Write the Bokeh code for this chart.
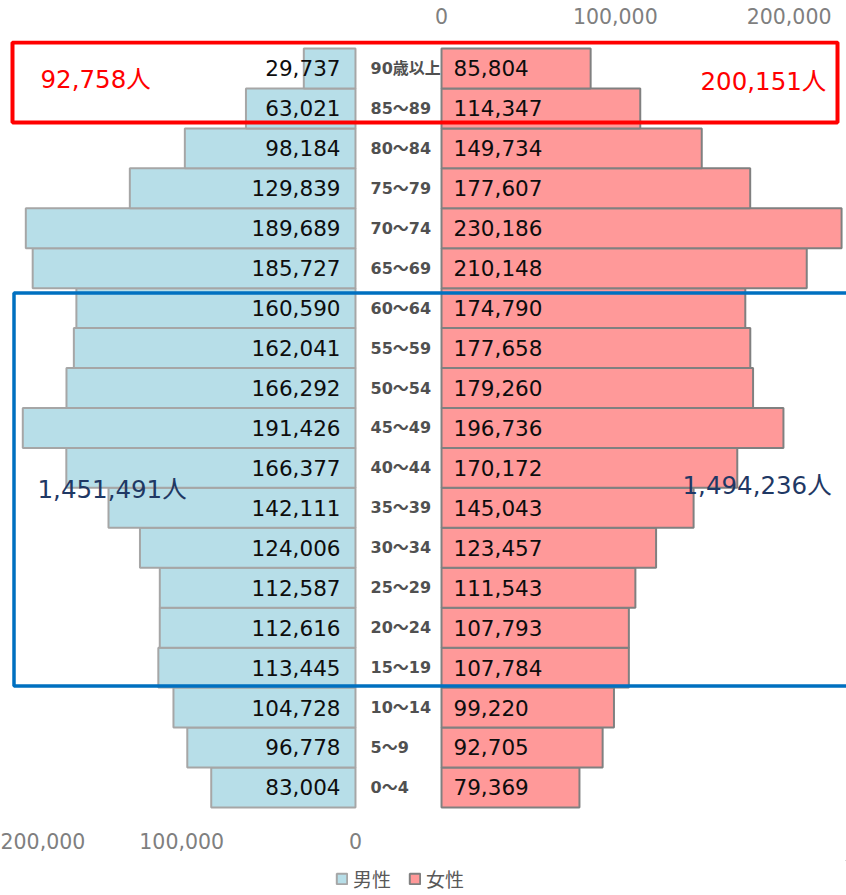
from bokeh.plotting import figure
from bokeh.models import (ColumnDataSource, LinearAxis, FixedTicker, Range1d,
                          BoxAnnotation, Legend, LegendItem)
from bokeh.layouts import column
from bokeh.core.properties import value
from bokeh.embed import file_html
from bokeh.resources import INLINE

# ---------------- data ----------------
ages = ["0～4", "5～9", "10～14", "15～19", "20～24", "25～29", "30～34", "35～39",
        "40～44", "45～49", "50～54", "55～59", "60～64", "65～69", "70～74",
        "75～79", "80～84", "85～89", "90歳以上"]
male = [83004, 96778, 104728, 113445, 112616, 112587, 124006, 142111, 166377,
        191426, 166292, 162041, 160590, 185727, 189689, 129839, 98184, 63021, 29737]
female = [79369, 92705, 99220, 107784, 107793, 111543, 123457, 145043, 170172,
          196736, 179260, 177658, 174790, 210148, 230186, 177607, 149734, 114347, 85804]
tick_values = [0, 100000, 200000]
tick_labels = ["0", "100,000", "200,000"]
legend_labels = ["男性", "女性"]
old_ages = ["85～89", "90歳以上"]
working_ages = ["15～19", "20～24", "25～29", "30～34", "35～39",
                "40～44", "45～49", "50～54", "55～59", "60～64"]

MALE_FILL, MALE_LINE = "#B7DEE8", "#A6A6A6"
FEMALE_FILL, FEMALE_LINE = "#FF9999", "#808080"

# ---------------- layout constants ----------------
W, H1, H2 = 846, 860, 35
G = 24750                 # half gap (value units) for the centre label column
s = 0.001738              # px per value unit
CX = 398                  # centre of the pyramid in px
X0, X1 = -CX / s, (W - CX) / s
Y0, Y1 = -0.628, 18.701


def ux(px):  # px from the figure's left edge -> x data units
    return X0 + px / s


NUM_FONT_NAME = "DejaVu Sans, Noto Sans CJK JP"
NUM_FONT = value(NUM_FONT_NAME)
CJK_FONT_NAME = "Noto Sans CJK JP"

rows = list(range(len(ages)))
src = ColumnDataSource(dict(
    y=rows,
    age=ages,
    m_left=[-G - v for v in male],
    m_right=[-G] * len(male),
    f_left=[G] * len(female),
    f_right=[G + v for v in female],
    m_lab=[f"{v:,}" for v in male],
    f_lab=[f"{v:,}" for v in female],
    m_x=[-G] * len(male),
    f_x=[G] * len(female),
    a_x=[ux(370)] * len(ages),
))

p = figure(width=W, height=H1, output_backend="svg", toolbar_location=None,
           x_range=Range1d(X0, X1), y_range=Range1d(Y0, Y1),
           x_axis_location=None, y_axis_location=None,
           min_border_left=0, min_border_right=0, min_border_top=40,
           min_border_bottom=48)
p.outline_line_color = None
p.xgrid.visible = False
p.ygrid.visible = False
p.background_fill_color = "white"
p.border_fill_color = "white"

mr = p.hbar(y="y", left="m_left", right="m_right", height=1.0, source=src,
            fill_color=MALE_FILL, line_color=MALE_LINE, line_width=2)

p.text(x="a_x", y="y", text="age", source=src, text_font=NUM_FONT,
       text_font_size=value("16px"), text_font_style="bold", text_color="#505050",
       text_align="left", text_baseline="middle")

fr = p.hbar(y="y", left="f_left", right="f_right", height=1.0, source=src,
            fill_color=FEMALE_FILL, line_color=FEMALE_LINE, line_width=2)

p.text(x="m_x", y="y", text="m_lab", source=src, x_offset=-15, text_font=NUM_FONT,
       text_font_size=value("21.5px"), text_color="#0D0D0D", text_align="right",
       text_baseline="middle")
p.text(x="f_x", y="y", text="f_lab", source=src, x_offset=12, text_font=NUM_FONT,
       text_font_size=value("21.5px"), text_color="#0D0D0D", text_align="left",
       text_baseline="middle")

# axes
top_ax = LinearAxis(ticker=FixedTicker(ticks=[G + t for t in tick_values]),
                    major_label_overrides={G + t: l for t, l in zip(tick_values, tick_labels)})
bot_ax = LinearAxis(ticker=FixedTicker(ticks=[-G - t for t in tick_values]),
                    major_label_overrides={-G - t: l for t, l in zip(tick_values, tick_labels)})
for ax, so in ((top_ax, 11), (bot_ax, 14)):
    ax.axis_line_color = None
    ax.major_tick_line_color = None
    ax.minor_tick_line_color = None
    ax.major_label_standoff = so
    ax.major_label_text_font = NUM_FONT_NAME
    ax.major_label_text_font_size = "20.5px"
    ax.major_label_text_color = "#7F7F7F"
p.add_layout(top_ax, "above")
p.add_layout(bot_ax, "below")

# group boxes
i_old = [ages.index(a) for a in old_ages]
i_work = [ages.index(a) for a in working_ages]
p.add_layout(BoxAnnotation(left=ux(12), right=ux(837),
                           bottom=min(i_old) - 0.35, top=max(i_old) + 0.65,
                           fill_alpha=0, line_color="#FF0000", line_alpha=1,
                           line_width=4))
p.add_layout(BoxAnnotation(left=ux(13.5), right=X1 + 20000,
                           bottom=min(i_work) - 0.46, top=max(i_work) + 0.38,
                           fill_alpha=0, line_color="#0070C0", line_alpha=1,
                           line_width=3.5))

# group totals
m_old = sum(male[i] for i in i_old)
f_old = sum(female[i] for i in i_old)
m_work = sum(male[i] for i in i_work)
f_work = sum(female[i] for i in i_work)
ys_old = (min(i_old) + max(i_old)) / 2 + 0.22
ys_work = (min(i_work) + max(i_work)) / 2

tot = ColumnDataSource(dict(
    x=[ux(40), ux(700), ux(37), ux(682)],
    y=[ys_old, ys_old - 0.05, ys_work - 0.05, ys_work + 0.05],
    t=[f"{m_old:,}人", f"{f_old:,}人", f"{m_work:,}人", f"{f_work:,}人"],
    c=["#FF0000", "#FF0000", "#1F3864", "#1F3864"],
))
p.text(x="x", y="y", text="t", text_color="c", source=tot, text_font=NUM_FONT,
       text_font_size=value("24.5px"), text_align="left", text_baseline="middle")

# ---------------- legend strip ----------------
lf = figure(width=W, height=H2, output_backend="svg", toolbar_location=None,
            x_range=Range1d(0, 1), y_range=Range1d(0, 1),
            x_axis_location=None, y_axis_location=None, min_border=0)
lf.outline_line_color = None
lf.xgrid.visible = False
lf.ygrid.visible = False
# legend proxies: one bar each, placed outside the visible range
proxy = ColumnDataSource(dict(y=[5], left=[5], right=[6]))
lm = lf.hbar(y="y", left="left", right="right", height=1.0, source=proxy,
             fill_color=MALE_FILL, line_color=MALE_LINE, line_width=2)
lw = lf.hbar(y="y", left="left", right="right", height=1.0, source=proxy,
             fill_color=FEMALE_FILL, line_color=FEMALE_LINE, line_width=2)
legend = Legend(items=[LegendItem(label=legend_labels[0], renderers=[lm]),
                       LegendItem(label=legend_labels[1], renderers=[lw])],
                orientation="horizontal", location=(335, 3),
                border_line_color=None, background_fill_alpha=0,
                label_text_font=CJK_FONT_NAME, label_text_font_size="19px",
                label_text_color="#595959", glyph_width=13, glyph_height=13,
                label_standoff=5, spacing=17, padding=0, margin=0)
lf.add_layout(legend, "center")

open("out.html", "w").write(file_html(column(p, lf, spacing=0), INLINE))
